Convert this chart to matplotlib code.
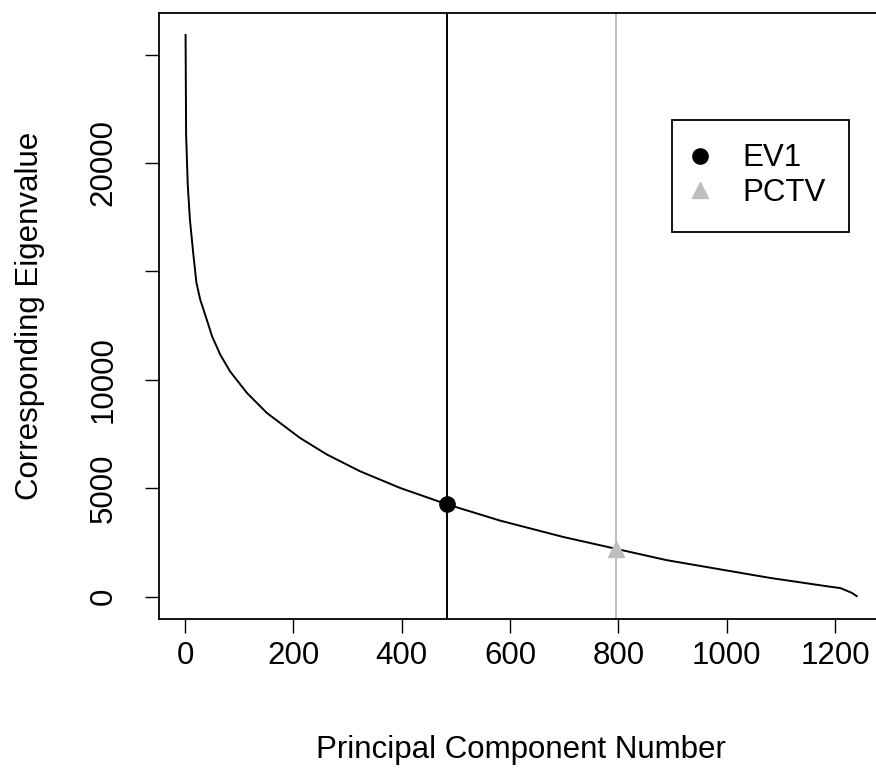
import matplotlib
matplotlib.use("Agg")
import matplotlib.pyplot as plt
from matplotlib.lines import Line2D

plt.rcParams["font.family"] = ["Liberation Sans", "DejaVu Sans"]

# eigenvalue curve (component number, eigenvalue)
pc_number = [1, 2, 5, 9, 15, 21, 28, 40, 50, 65, 83, 114, 151, 212, 262,
             323, 397, 483, 582, 698, 796, 889, 982, 1080, 1185, 1210, 1231,
             1240]
eigenvalue = [25900, 21300, 19000, 17390, 15870, 14480, 13700, 12780, 12000,
              11160, 10390, 9400, 8470, 7320, 6550, 5780, 5010, 4260, 3500,
              2750, 2200, 1680, 1280, 860, 475, 390, 170, 20]

# selected components
ev1_pc, ev1_val = 483, 4260
pctv_pc, pctv_val = 796, 2200

x_ticks = [0, 200, 400, 600, 800, 1000, 1200]
y_ticks = [0, 5000, 10000, 15000, 20000, 25000]
y_tick_labels = ["0", "5000", "10000", "", "20000", ""]

GREY = "#BEBEBE"
FS = 22.5

W, H = 876, 769
fig = plt.figure(figsize=(W / 100, H / 100), dpi=100)
ax = fig.add_axes([158.7 / W, 1 - 619 / H, (883.6 - 158.7) / W, (619 - 13) / H])

ax.plot(pc_number, eigenvalue, color="black", lw=1.4)
ax.axvline(ev1_pc, color="black", lw=1.4)
ax.axvline(pctv_pc, color=GREY, lw=1.4)
ax.plot([ev1_pc], [ev1_val], "o", color="black", ms=11, zorder=5)
ax.plot([pctv_pc], [pctv_val], "^", color=GREY, ms=12, zorder=5)

ax.set_xlim(-48.6, 1289.6)
ax.set_ylim(-1035, 26915)
ax.set_xticks(x_ticks)
ax.set_xticklabels([str(t) for t in x_ticks], fontsize=FS)
ax.set_yticks(y_ticks)
ax.set_yticklabels(y_tick_labels, fontsize=FS, rotation=90, va="center")
ax.tick_params(axis="x", length=10, width=1.0, pad=6)
ax.tick_params(axis="y", length=10, width=1.0, pad=19)
for s in ax.spines.values():
    s.set_linewidth(1.3)

fig.text(521 / W, 1 - 750 / H, "Principal Component Number", fontsize=FS,
         ha="center", va="center")
fig.text(30 / W, 1 - 316 / H, "Corresponding Eigenvalue", fontsize=FS,
         ha="center", va="center", rotation=90)

handles = [
    Line2D([], [], ls="none", marker="o", color="black", ms=11),
    Line2D([], [], ls="none", marker="^", color=GREY, ms=12),
]
leg = ax.legend(handles, ["EV1", "PCTV"], loc="upper left",
                bbox_to_anchor=(671.7 / W, 1 - 120 / H),
                bbox_transform=fig.transFigure, borderaxespad=0,
                fontsize=FS, fancybox=False, framealpha=1, edgecolor="black",
                handlelength=0.3, handletextpad=1.2, labelspacing=0.15,
                borderpad=0.75)
leg.get_frame().set_linewidth(1.3)

fig.savefig("out.png", dpi=100)
